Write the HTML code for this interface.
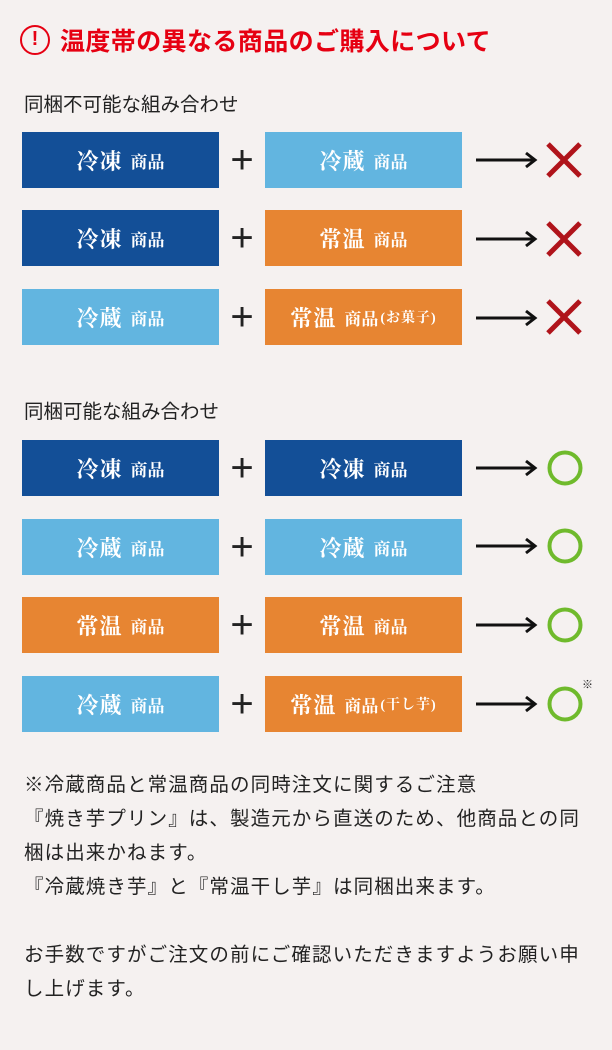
<!DOCTYPE html>
<html><head><meta charset="utf-8"><style>
body{margin:0;width:612px;height:1050px;background:#f5f1f0;position:relative;overflow:hidden;font-family:"Liberation Sans","Noto Sans CJK JP",sans-serif;}
.a{position:absolute}
.b{position:absolute;width:197px;height:56px;color:#fff;font-family:"Liberation Serif","Noto Serif CJK SC",serif;font-weight:bold;display:flex;align-items:center;justify-content:center;font-size:22px;letter-spacing:1px}
.b small{font-size:17px;margin-left:8px;letter-spacing:0}
.b em{font-style:normal;font-size:14px;margin-left:2px}
.d{background:#134f97}.l{background:#62b5e0}.o{background:#e78532}
.p{position:absolute;left:226px;width:32px;font-size:40px;font-weight:300;line-height:36px;text-align:center;color:#222}
.t{position:absolute;left:24px;font-size:19.5px;color:#222}
</style></head><body>
<div class="a" style="left:20px;top:25px;width:30px;height:30px;border:2.5px solid #e60012;border-radius:50%;box-sizing:border-box;color:#e60012;text-align:center;font-size:20px;line-height:25px;font-weight:bold">!</div>
<div class="a" style="left:60px;top:22px;font-size:25px;font-weight:bold;color:#e60012;white-space:nowrap;letter-spacing:0.4px">温度帯の異なる商品のご購入について</div>
<div class="t" style="top:88px">同梱不可能な組み合わせ</div>
<div class="t" style="top:395px">同梱可能な組み合わせ</div>
<svg class="a" style="left:0;top:0" width="612" height="1050">
<defs><g id="ar"><line x1="0" y1="0" x2="58" y2="0" stroke="#111" stroke-width="3"/><polyline points="50,-7 59,0 50,7" fill="none" stroke="#111" stroke-width="3"/></g>
<g id="x"><path d="M-16,-16L16,16M16,-16L-16,16" stroke="#b0141b" stroke-width="5"/></g>
<g id="c"><circle r="15.5" fill="none" stroke="#6fba2c" stroke-width="4"/></g></defs>
<use href="#ar" x="476" y="160"/><use href="#x" x="564" y="160"/>
<use href="#ar" x="476" y="239"/><use href="#x" x="564" y="239"/>
<use href="#ar" x="476" y="318"/><use href="#x" x="564" y="317"/>
<use href="#ar" x="476" y="468"/><use href="#c" x="565" y="468"/>
<use href="#ar" x="476" y="546"/><use href="#c" x="565" y="546"/>
<use href="#ar" x="476" y="625"/><use href="#c" x="565" y="625"/>
<use href="#ar" x="476" y="704"/><use href="#c" x="565" y="704"/>
</svg>
<div class="a" style="left:582px;top:676px;font-size:11px;color:#222">※</div>
<div class="b d" style="left:22px;top:132px">冷凍<small>商品</small></div><div class="p" style="top:142px">+</div><div class="b l" style="left:265px;top:132px">冷蔵<small>商品</small></div>
<div class="b d" style="left:22px;top:210px">冷凍<small>商品</small></div><div class="p" style="top:220px">+</div><div class="b o" style="left:265px;top:210px">常温<small>商品</small></div>
<div class="b l" style="left:22px;top:289px">冷蔵<small>商品</small></div><div class="p" style="top:299px">+</div><div class="b o" style="left:265px;top:289px">常温<small>商品</small><em>(お菓子)</em></div>
<div class="b d" style="left:22px;top:440px">冷凍<small>商品</small></div><div class="p" style="top:450px">+</div><div class="b d" style="left:265px;top:440px">冷凍<small>商品</small></div>
<div class="b l" style="left:22px;top:519px">冷蔵<small>商品</small></div><div class="p" style="top:529px">+</div><div class="b l" style="left:265px;top:519px">冷蔵<small>商品</small></div>
<div class="b o" style="left:22px;top:597px">常温<small>商品</small></div><div class="p" style="top:607px">+</div><div class="b o" style="left:265px;top:597px">常温<small>商品</small></div>
<div class="b l" style="left:22px;top:676px">冷蔵<small>商品</small></div><div class="p" style="top:686px">+</div><div class="b o" style="left:265px;top:676px">常温<small>商品</small><em>(干し芋)</em></div>
<div class="a" style="left:24px;top:768px;font-size:19.5px;line-height:34px;color:#222;white-space:nowrap;letter-spacing:1.1px">※冷蔵商品と常温商品の同時注文に関するご注意<br>『焼き芋プリン』は、製造元から直送のため、他商品との同<br>梱は出来かねます。<br>『冷蔵焼き芋』と『常温干し芋』は同梱出来ます。<br><br>お手数ですがご注文の前にご確認いただきますようお願い申<br>し上げます。</div>
</body></html>
